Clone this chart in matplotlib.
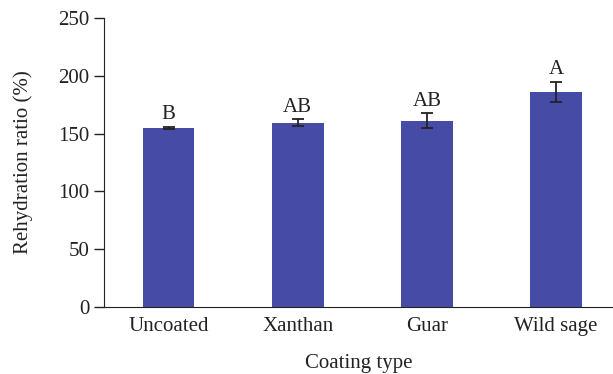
import numpy as np
from matplotlib import pyplot as plt

######### Data ############
coatings = ['Uncoated', 'Xanthan', 'Guar', 'Wild sage']
ratio = [155, 159.5, 161, 186]
err = [1, 3, 6.5, 9]
letters = ['B', 'AB', 'AB', 'A']
###########################

plt.rcParams['font.family'] = ['Liberation Serif', 'DejaVu Serif']

fig = plt.figure(figsize=(6.13, 3.74), dpi=100)
ax = fig.add_axes([0.1697, 0.179, 0.83, 0.773])

x = np.arange(len(coatings))
ax.bar(x, ratio, width=0.4, color='#464ca6', zorder=2)
ax.errorbar(x, ratio, yerr=err, fmt='none', ecolor='#222222', elinewidth=1.3,
            capsize=4, capthick=1.3, zorder=3)
for i in range(len(x)):
    ax.text(x[i], ratio[i] + err[i] + 2, letters[i], ha='center', va='bottom',
            fontsize=15, color='#222222')

ax.set_xlim(-0.5, 3.44)
ax.set_ylim(0, 250)
ax.set_yticks([0, 50, 100, 150, 200, 250])
ax.set_xticks(x)
ax.set_xticklabels(coatings)
ax.tick_params(axis='x', length=0, labelsize=15, pad=7, colors='#222222')
ax.tick_params(axis='y', length=7, width=1, labelsize=15, colors='#222222')
for s in ['top', 'right']:
    ax.spines[s].set_visible(False)
ax.spines['left'].set_color('#222222')
ax.spines['bottom'].set_color('#222222')
ax.set_ylabel('Rehydration ratio (%)', fontsize=15, color='#222222', labelpad=18)
ax.set_xlabel('Coating type', fontsize=15, color='#222222', labelpad=13)

plt.savefig('out.png', dpi=100)
